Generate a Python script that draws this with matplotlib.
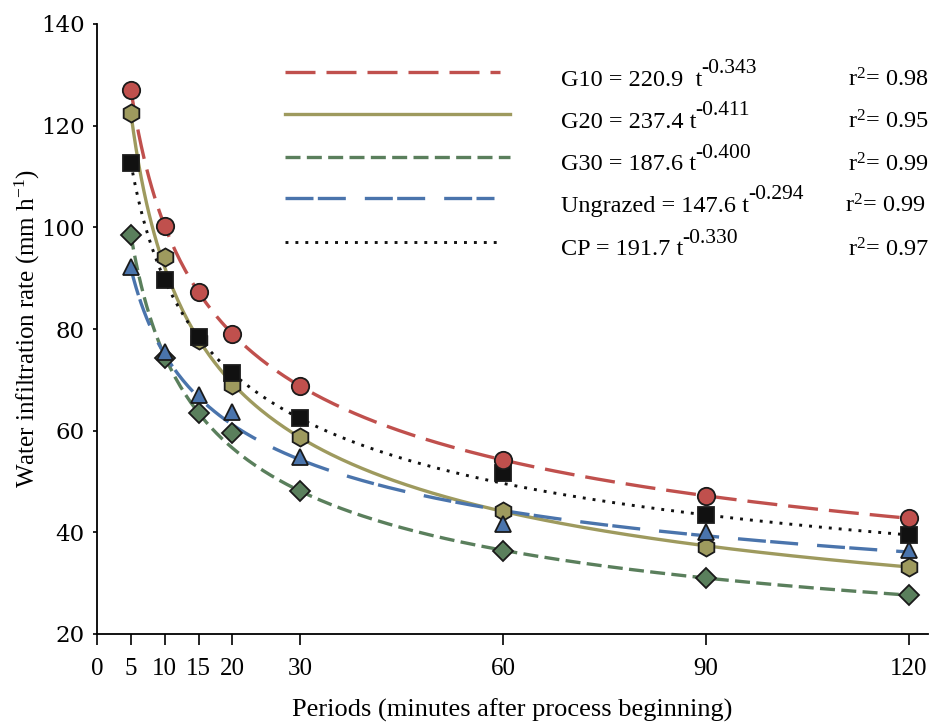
import numpy as np
import matplotlib
matplotlib.use('Agg')
import matplotlib.pyplot as plt

plt.rcParams['font.family'] = 'Liberation Serif'
plt.rcParams['mathtext.fontset'] = 'custom'
plt.rcParams['mathtext.rm'] = 'Liberation Serif'
plt.rcParams['mathtext.default'] = 'regular'

### ----- data ----- ###
times = [5, 10, 15, 20, 30, 60, 90, 120]
g10 = [127.0, 100.3, 87.2, 79.0, 68.8, 54.2, 47.1, 42.8]
g20 = [122.4, 94.1, 77.8, 69.0, 58.7, 44.2, 37.2, 33.2]
g30 = [98.5, 74.2, 63.4, 59.6, 48.1, 36.4, 31.0, 27.7]
ungrazed = [92.2, 75.4, 67.1, 63.7, 54.9, 41.7, 40.0, 36.5]
cp = [112.6, 89.6, 78.4, 71.3, 62.4, 51.6, 43.4, 39.5]

names = ['G10', 'G20', 'G30', 'Ungrazed', 'CP']
coef_a = [220.9, 237.4, 187.6, 147.6, 191.7]
coef_b = [-0.343, -0.411, -0.400, -0.294, -0.330]
r2 = [0.98, 0.95, 0.99, 0.99, 0.97]
eq_a_text = ['220.9  t', '237.4 t', '187.6 t', '147.6 t', '191.7 t']

xticks = [0, 5, 10, 15, 20, 30, 60, 90, 120]
yticks = [20, 40, 60, 80, 100, 120, 140]

### ----- styles ----- ###
series = [g10, g20, g30, ungrazed, cp]
colors = ['#C0504D', '#9E9A5E', '#5A7F5C', '#4A74AC', '#111111']
markers = ['o', 'h', 'D', '^', 's']
msizes = [12.5, 13, 10, 12, 11]
styles = [(0, (9, 3.3)), '-', (0, (4.5, 1.9)), (0, (8.4, 1.3, 8.4, 5.7)), (0, (1, 2.4))]
lws = [2.4, 2.4, 2.4, 2.4, 2.1]
mzorder = [6, 4, 3, 7, 5]

fig = plt.figure(figsize=(9.3, 7.25), dpi=100)
ax = fig.add_axes([97/930, 1-634/725, 831/930, 610/725])

t_fit = np.linspace(5, 120, 300)
for i in range(len(series)):
    y_fit = coef_a[i] * t_fit ** coef_b[i]
    ax.plot(t_fit, y_fit, color=colors[i], linestyle=styles[i], lw=lws[i], zorder=2)
    ax.plot(times, series[i], linestyle='none', marker=markers[i], ms=msizes[i],
            markerfacecolor=colors[i], markeredgecolor='#1a1a1a', markeredgewidth=1.3,
            zorder=mzorder[i])

# legend drawn by hand: line sample, equation, r2
leg_y = [0.921, 0.852, 0.782, 0.714, 0.643]
leg_x_end = [0.485, 0.497, 0.497, 0.478, 0.485]
for i in range(len(names)):
    ax.plot([0.226, leg_x_end[i]], [leg_y[i], leg_y[i]], transform=ax.transAxes,
            color=colors[i], linestyle=styles[i], lw=lws[i], clip_on=False)
    main_txt = ax.text(0.558, leg_y[i] - 0.013, names[i] + ' = ' + eq_a_text[i],
                       transform=ax.transAxes, fontsize=17.5, va='center', ha='left')
    ax.annotate('%.3f' % coef_b[i], xy=(1, 0.5), xycoords=main_txt,
                xytext=(-0.5, 5), textcoords='offset points',
                fontsize=15.5, va='baseline', ha='left')
    rx = 0.900 if names[i] == 'Ungrazed' else 0.904
    ax.text(rx, leg_y[i] - 0.013, 'r$^{2}$= %.2f' % r2[i], transform=ax.transAxes,
            fontsize=17.5, va='center', ha='left')

ax.set_xlim(0, 122.8)
ax.set_ylim(20, 140)
ax.set_xticks(xticks)
ax.set_yticks(yticks)
ax.set_xticklabels([str(v) for v in xticks], fontsize=18)
ax.set_yticklabels([str(v) for v in yticks], fontsize=16.5, family='DejaVu Serif')
ax.tick_params(axis='x', direction='out', length=8, width=1.2, pad=9)
ax.tick_params(axis='y', direction='out', length=3, width=1.2, pad=6)

for s in ['top', 'right']:
    ax.spines[s].set_visible(False)
for s in ['left', 'bottom']:
    ax.spines[s].set_linewidth(1.3)

ax.set_xlabel('Periods (minutes after process beginning)', fontsize=19, labelpad=14)
ax.set_ylabel('Water infiltration rate (mm h$^{-1}$)', fontsize=18)
ax.yaxis.set_label_coords(-0.066, 0.5)

fig.savefig('out.png', dpi=100)
